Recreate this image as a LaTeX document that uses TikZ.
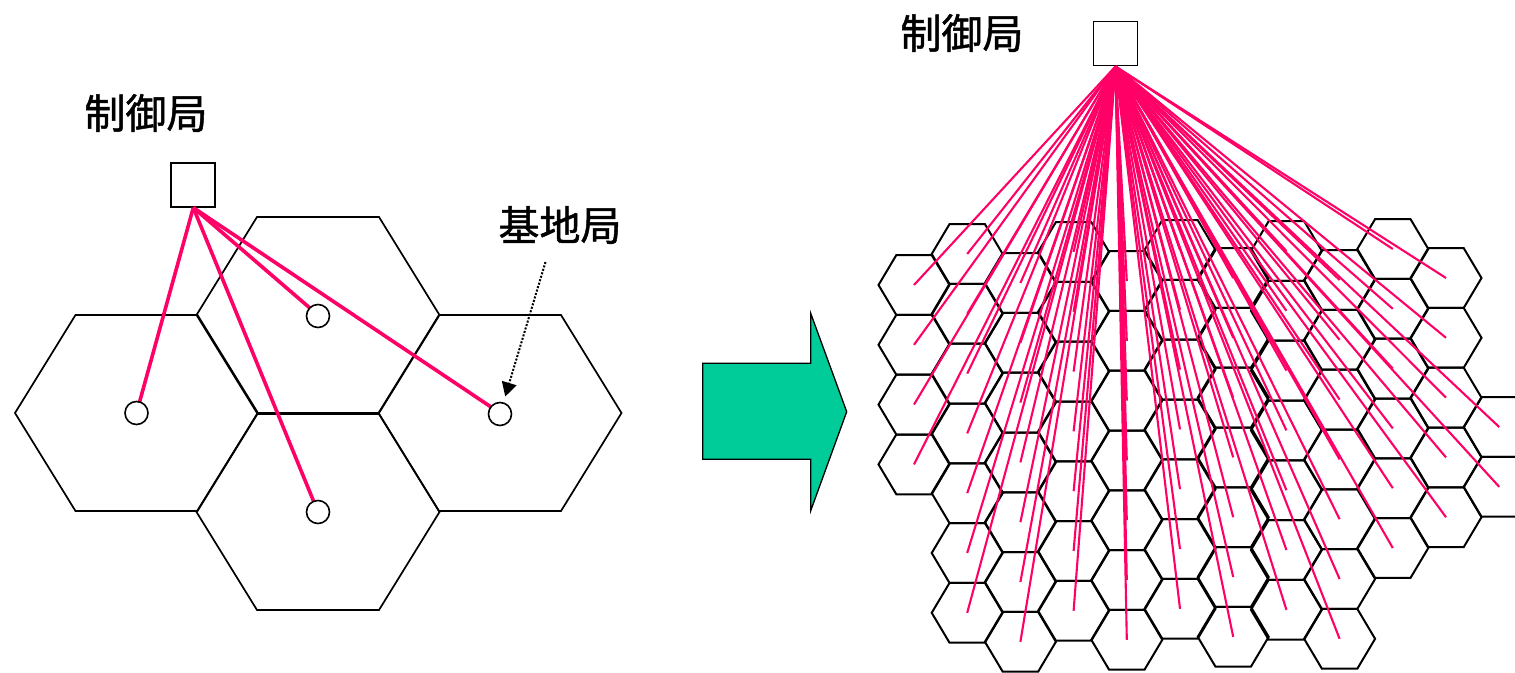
\documentclass[tikz,border=0pt]{standalone}
\usepackage{fontspec}
\newfontfamily\jpfont{Noto Sans CJK JP}[FakeBold=1.2]
\usetikzlibrary{arrows.meta}
\definecolor{linkred}{HTML}{FF0066}
\definecolor{arrowgreen}{HTML}{00CC99}
\tikzset{
  hexline/.style={draw=black, line width=1.7pt, line join=miter},
  smallhexline/.style={draw=black, line width=2pt, line join=miter},
  bighex/.pic={\draw[hexline] (-121.5,0) -- (-61,-98) -- (61,-98) -- (121.5,0) -- (61,98) -- (-61,98) -- cycle;},
  smallhex/.pic={\draw[smallhexline] (-35.5,0) -- (-17.7,-29.9) -- (17.7,-29.9) -- (35.5,0) -- (17.7,29.9) -- (-17.7,29.9) -- cycle;},
  ctrlbox/.style={draw=black, line width=1.9pt, fill=white, rectangle, minimum size=44pt, inner sep=0pt},
  station/.style={draw=black, line width=1.6pt, fill=white, circle, minimum size=23pt, inner sep=0pt},
  jplabel/.style={font=\jpfont\fontsize{41}{41}\selectfont, inner sep=0pt, text=black},
  thicklink/.style={draw=linkred, line width=3.6pt},
  thinlink/.style={draw=linkred, line width=2.1pt},
  dotarrow/.style={draw=black, line width=2pt, dash pattern=on 2pt off 1.6pt, shorten >=6pt, -{Triangle[length=14pt,width=15pt]}},
  bigarrow/.style={draw=black, line width=1.3pt, fill=arrowgreen, line join=miter}
}
\begin{document}
\begin{tikzpicture}[x=1pt,y=-1pt]
\useasboundingbox (0,0) rectangle (1515,672);

% ---------- left diagram ----------
\coordinate (cA) at (136.5,413);
\coordinate (cB) at (318,315);
\coordinate (cC) at (318,512);
\coordinate (cD) at (500,413);
\foreach \p in {cA,cB,cC,cD} { \pic at (\p) {bighex}; }

\node[jplabel] (lblL) at (146,113) {制御局};
\node[ctrlbox] (ctrlL) at (193.3,184.7) {};

\draw[thicklink] (ctrlL.south) -- (cA);
\draw[thicklink] (ctrlL.south) -- (cB);
\draw[thicklink] (ctrlL.south) -- (cC);
\draw[thicklink] (ctrlL.south) -- (cD);

\node[station] (stA) at (136.5,413) {};
\node[station] (stB) at (318,316) {};
\node[station] (stC) at (318,512) {};
\node[station] (stD) at (500,414) {};

\node[jplabel] (lblBS) at (560,225) {基地局};
\coordinate (bsptr) at (545.5,262);
\draw[dotarrow] (bsptr) -- (stD);

% ---------- big arrow ----------
\draw[bigarrow] (702.7,363.3) -- (810.7,363.3) -- (810.7,313.3) -- (846.7,411.7)
  -- (810.7,510.7) -- (810.7,459.3) -- (702.7,459.3) -- cycle;

% ---------- right diagram ----------
\foreach \c/\y/\n in {0/285/4, 1/254/7, 2/283/7, 3/252/7, 4/281/7, 5/250/7,
                      6/278/7, 7/251/7, 8/280/7, 9/249/6, 10/278/5, 11/427/2} {
  \foreach \k in {1,...,\n} {
    \coordinate (h-\c-\k) at ({914+53.2*\c},{\y+59.8*(\k-1)});
    \pic at (h-\c-\k) {smallhex};
  }
}

\node[jplabel] (lblR) at (962,33) {制御局};
\node[ctrlbox] (ctrlR) at (1115.5,43.5) {};

\foreach \c/\n in {0/4, 1/7, 2/7, 3/7, 4/7, 5/7, 6/7, 7/7, 8/7, 9/6, 10/5, 11/2} {
  \foreach \k in {1,...,\n} {
    \draw[thinlink] (ctrlR.south) -- (h-\c-\k);
  }
}
\end{tikzpicture}
\end{document}
